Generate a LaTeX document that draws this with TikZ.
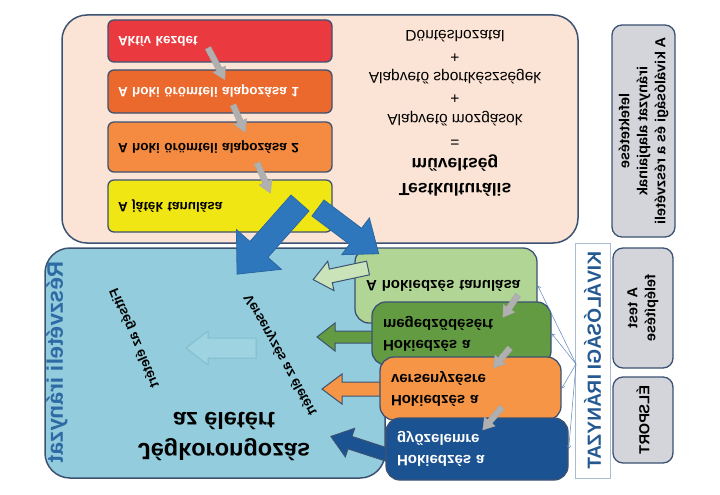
\documentclass[tikz,border=0pt]{standalone}
\usepackage{fontspec}
\setmainfont{Liberation Sans}
\usetikzlibrary{arrows.meta}
\definecolor{peach}{HTML}{FBE4D5}
\definecolor{bord}{HTML}{3C5273}
\definecolor{skyb}{HTML}{93CDDD}
\definecolor{redb}{HTML}{EA3A3F}
\definecolor{orbA}{HTML}{EC692D}
\definecolor{orbB}{HTML}{F48B40}
\definecolor{yelb}{HTML}{EFE614}
\definecolor{lgrn}{HTML}{B1D595}
\definecolor{grn}{HTML}{629B42}
\definecolor{orn}{HTML}{F69546}
\definecolor{dblue}{HTML}{1B5291}
\definecolor{arrblue}{HTML}{2F77BC}
\definecolor{arrblued}{HTML}{2A67A3}
\definecolor{pgrn}{HTML}{CBE3B8}
\definecolor{grayb}{HTML}{D3D5DA}
\definecolor{titleb}{HTML}{2E6AA3}
\definecolor{kivc}{HTML}{245A91}
\definecolor{kivbord}{HTML}{A9BCD0}
\definecolor{arrg}{HTML}{B0B0B0}
\definecolor{hollowd}{HTML}{86BCCB}
\definecolor{hollowf}{HTML}{9ED3E2}
\definecolor{thinb}{HTML}{5B84B8}
\newcommand\fatarr[8]{%
  \begin{scope}[shift={(#2,#3)},rotate=#4]
    \draw[#1] (0,-#6/2) -- (#5-#8,-#6/2) -- (#5-#8,-#7/2) -- (#5,0) -- (#5-#8,#7/2) -- (#5-#8,#6/2) -- (0,#6/2) -- cycle;
  \end{scope}}
\begin{document}
\begin{tikzpicture}[x=1pt,y=1pt,yscale=-1,transform shape,
  every node/.style={font=\bfseries},
  cbox/.style={draw=bord, line width=1.3pt, rounded corners=6pt, inner xsep=10pt, align=left, text width=204,
    font=\bfseries\fontsize{13.5}{15}\selectfont},
  rbox/.style={draw=bord, line width=1.3pt, rounded corners=14pt, inner xsep=11pt, align=left,
    font=\bfseries\fontsize{15}{21}\selectfont},
  gbox/.style={draw=bord, line width=1.3pt, fill=grayb, rounded corners=10pt, align=center, rotate=90,
    font=\bfseries\fontsize{14.5}{18}\selectfont},
  plaintxt/.style={font=\fontsize{15.5}{18}\selectfont},
  bigtxt/.style={font=\bfseries\fontsize{17.5}{20}\selectfont},
  diagtxt/.style={font=\bfseries\fontsize{13.5}{15}\selectfont},
  grayfat/.style={draw=gray!70, line width=0.4pt, fill=arrg},
  colfat/.style={draw=bord, line width=1pt},
  bluefat/.style={draw=arrblued, line width=0.8pt, fill=arrblue},
  thinc/.style={draw=thinb, line width=0.5pt, -{Straight Barb[length=3pt,width=4pt]}}]
\useasboundingbox (0,0) rectangle (720,495);

% main panels
\node[draw=bord, line width=1.5pt, fill=peach, rounded corners=25pt, minimum width=516, minimum height=228] (peachbox) at (320,129) {};
\node[draw=bord, line width=1.5pt, fill=skyb, rounded corners=25pt, minimum width=340, minimum height=230] (skybox) at (215,363) {};

% left column of steps
\node[cbox, fill=redb, text=white, minimum height=42] (aktiv) at (220,41) {Aktív kezdet};
\node[cbox, fill=orbA, text=white, minimum height=43] (hokiA) at (220,91.5) {A hoki örömteli alapozása 1};
\node[cbox, fill=orbB, minimum height=50] (hokiB) at (220,147) {A hoki örömteli alapozása 2};
\node[cbox, fill=yelb, minimum height=52] (jatek) at (220,206) {A játék tanulása};

% formula text
\node[plaintxt] (dont) at (455,36) {Döntéshozatal};
\node[plaintxt] (plusA) at (455,57) {+};
\node[plaintxt] (sport) at (455,77) {Alapvető sportkészségek};
\node[plaintxt] (plusB) at (455,98) {+};
\node[plaintxt] (mozg) at (455,119) {Alapvető mozgások};
\node[plaintxt] (eq) at (455,141) {=};
\node[bigtxt] (muv) at (455,163) {műveltség};
\node[bigtxt] (testk) at (455,190) {Testkulturális};

% participation texts
\node[rotate=90, text=titleb, font=\bfseries\fontsize{22.5}{24}\selectfont] (reszv) at (57,362) {Részvételi irányzat};
\node[align=center, font=\bfseries\fontsize{23.5}{31}\selectfont] (jeg) at (224,436) {Jégkorongozás\\az életért};
\node[diagtxt, rotate=61] (vers) at (281,355) {Versenyzés az életért};
\node[diagtxt, rotate=67] (fitt) at (135,338) {Fittség az életért};
\fatarr{draw=hollowd, line width=1pt, fill=hollowf}{256}{348}{180}{70}{20}{34}{22}

% arrows into participation box (under the boxes)
\fatarr{colfat, fill=grn}{374}{337}{180}{57}{12}{28}{18}
\fatarr{colfat, fill=orn}{382}{389}{180}{60}{14}{30}{20}
\fatarr{colfat, fill=dblue}{388}{455}{198}{60}{13}{30}{20}

% excellence column
\node[rbox, fill=lgrn, text width=160, minimum height=75] (lg) at (446,285.5) {A hokiedzés tanulása};
\node[rbox, fill=grn, text width=157, minimum height=63] (gr) at (461.5,333.5) {Hokiedzés a\\megedződésért};
\node[rbox, fill=orn, text width=159, minimum height=63] (orb) at (470.5,388.5) {Hokiedzés a\\versenyzésre};
\node[rbox, fill=dblue, text=white, text width=160, minimum height=62] (bl) at (477,449) {Hokiedzés a\\győzelemre};
\fatarr{colfat, fill=pgrn}{368}{268}{168}{56}{14}{30}{18}

% gray step arrows
\fatarr{grayfat}{208}{48}{62}{36}{6}{14}{12}
\fatarr{grayfat}{233}{105}{66}{30}{6}{14}{12}
\fatarr{grayfat}{257}{163}{66}{33}{6}{14}{12}
\fatarr{grayfat}{518}{295}{124}{27}{6}{14}{11}
\fatarr{grayfat}{510}{348}{130}{26}{6}{14}{11}
\fatarr{grayfat}{502}{407}{130}{30}{6}{14}{11}

% big blue split arrows
\fatarr{bluefat}{300}{203}{131.5}{95}{24}{60}{33}
\fatarr{bluefat}{318}{208}{37}{76}{20}{46}{29}

% right side labels
\node[draw=kivbord, line width=1pt, fill=white, rotate=90, minimum width=235, minimum height=35, text=kivc,
  font=\bfseries\fontsize{19}{20}\selectfont] (kiv) at (592.5,360.5) {KIVÁLÓSÁGI IRÁNYZAT};
\node[gbox, minimum width=212, minimum height=63] (gtop) at (643.5,131) {lefektetése\\irányzat alapjainak\\A kiválósági és a részvételi};
\node[gbox, minimum width=120, minimum height=60] (gmid) at (643,308) {A test\\felépítése};
\node[gbox, minimum width=86, minimum height=60] (gbot) at (643,420) {ÉLSPORT};

% thin connectors
\coordinate (kivsrc) at (576,364);
\draw[thinc] (kivsrc) -- (lg.east);
\draw[thinc] (kivsrc) -- (gr.east);
\draw[thinc] (kivsrc) -- (orb.east);
\draw[thinc] (kivsrc) -- (bl.east);
\end{tikzpicture}
\end{document}
